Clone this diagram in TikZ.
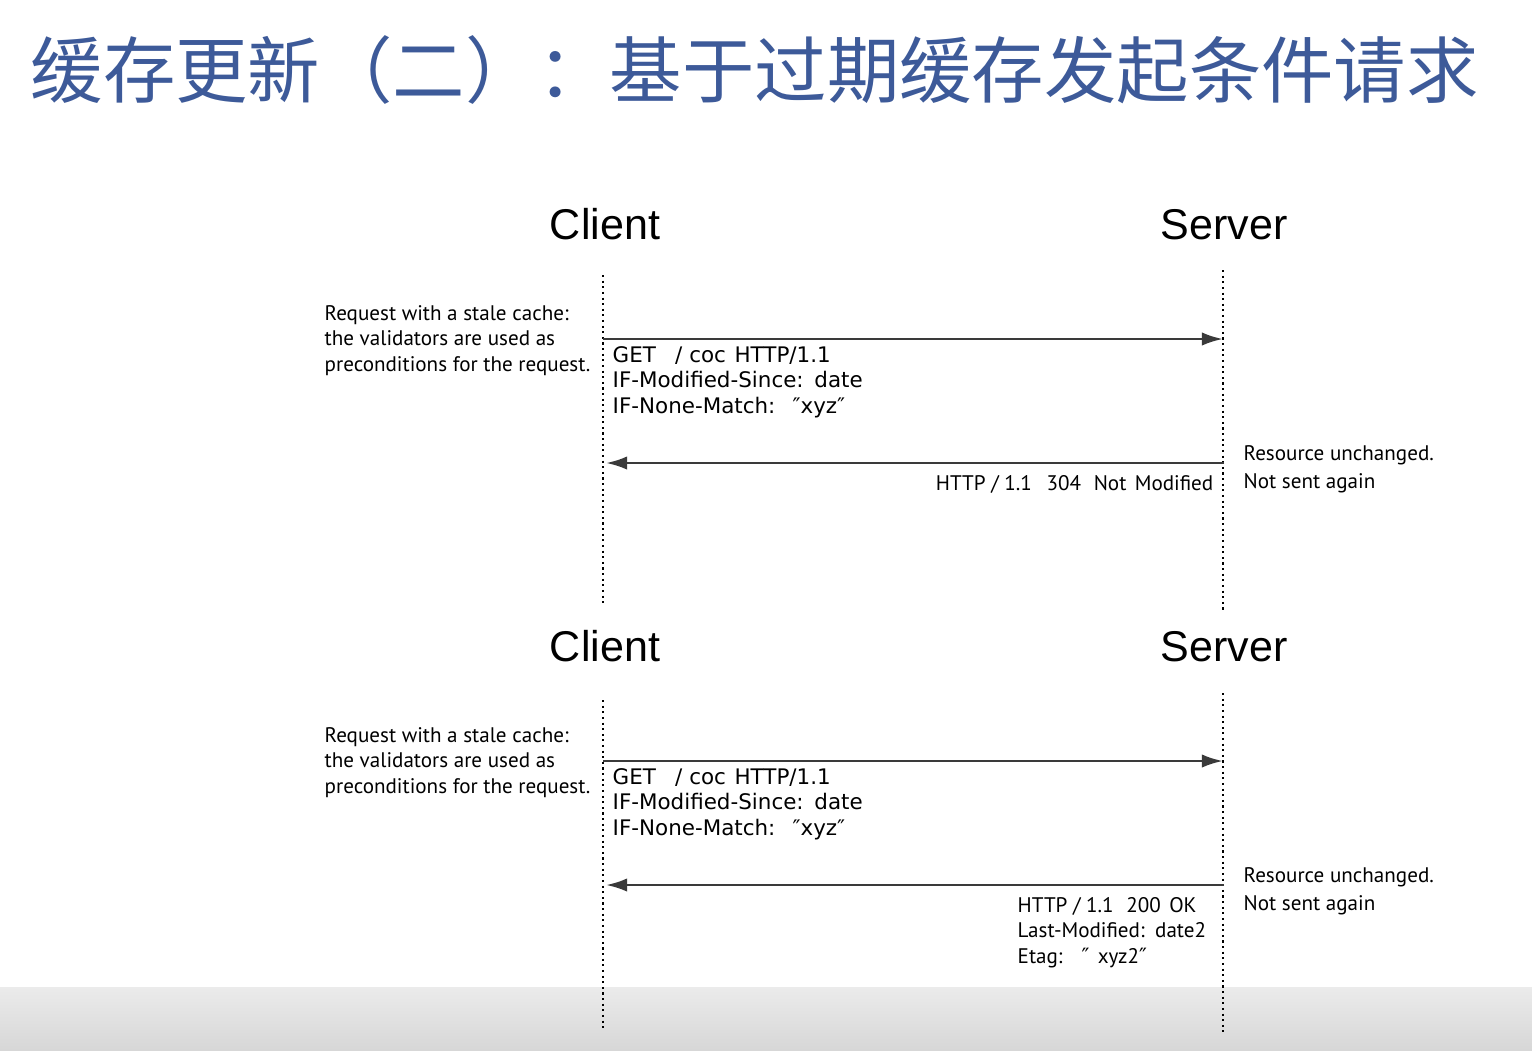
\documentclass[tikz,border=0pt]{standalone}
\usepackage{fontspec}
\setmainfont{PT Sans}
\newfontfamily\cjkfont{Noto Sans CJK SC}
\newfontfamily\headfont{Liberation Sans}
\newfontfamily\reqfont{DejaVu Sans}
\usetikzlibrary{arrows.meta,positioning}
\definecolor{titleblue}{HTML}{3D5A99}
\definecolor{msggray}{HTML}{3A3A3A}
\definecolor{bandtop}{HTML}{EBEBEB}
\definecolor{bandbot}{HTML}{D7D7D7}
\newcommand{\dq}{{\reqfont ″}}

\begin{document}
\begin{tikzpicture}[
        title/.style={anchor=base west, inner sep=0pt, text=titleblue, font=\cjkfont\fontsize{20.6}{24}\selectfont},
        actor/.style={anchor=base, inner sep=0pt, font=\headfont\fontsize{12.25}{14}\selectfont},
        note/.style={anchor=base west, inner sep=0pt, align=left, font=\fontsize{6.0}{7.15}\selectfont},
        reqtext/.style={anchor=base west, inner sep=0pt, align=left, font=\reqfont\fontsize{6.1}{7.25}\selectfont},
        resptext/.style={inner sep=0pt, align=left, font=\fontsize{6.0}{7.2}\selectfont},
        lifeline/.style={draw, densely dotted, line width=0.6pt},
        msg/.style={draw=msggray, line width=0.75pt, -{Latex[length=6pt,width=3.8pt]}},
    ]
    \useasboundingbox (0,0) rectangle (15.32,-10.5);
    \fill[top color=bandtop, bottom color=bandbot] (0,-9.87) rectangle (15.32,-10.5);

    \node[title](title) at (0.30,-0.97){缓存更新（二）：基于过期缓存发起条件请求};

    % first exchange
    \node[actor](client1) at (6.05,-2.39){Client};
    \node[actor](server1) at (12.24,-2.39){Server};
    \coordinate (c1top) at (6.03,-2.75);
    \coordinate (c1bot) at (6.03,-6.05);
    \coordinate (s1top) at (12.23,-2.70);
    \coordinate (s1bot) at (12.23,-6.10);
    \draw[lifeline] (c1top) -- (c1bot);
    \draw[lifeline] (s1top) -- (s1bot);
    \coordinate (c1req) at (6.03,-3.39);
    \coordinate (s1req) at (12.23,-3.39);
    \coordinate (s1resp) at (12.24,-4.63);
    \coordinate (c1resp) at (6.06,-4.63);
    \draw[msg] (c1req) -- (s1req);
    \draw[msg] (s1resp) -- (c1resp);
    \node[note](stale1) at (3.24,-3.71){Request with a stale cache:\\the validators are used as\\preconditions for the request.};
    \node[reqtext](get1) at (6.12,-4.13){GET\hspace{0.9em}/ coc\hspace{0.4em}HTTP/1.1\\IF-Modified-Since:\hspace{0.5em}date\\IF-None-Match:\hspace{0.8em}\dq xyz\dq};
    \node[resptext, anchor=base east](resp1) at (12.14,-4.90){HTTP / 1.1\hspace{0.7em}304\hspace{0.6em}Not\hspace{0.4em}Modified};
    \node[note](unch1) at (12.43,-4.88){Resource unchanged.\\[0.6pt]Not sent again};

    % second exchange
    \node[actor](client2) at (6.05,-6.61){Client};
    \node[actor](server2) at (12.24,-6.61){Server};
    \coordinate (c2top) at (6.03,-7.00);
    \coordinate (c2bot) at (6.03,-10.28);
    \coordinate (s2top) at (12.23,-6.93);
    \coordinate (s2bot) at (12.23,-10.32);
    \draw[lifeline] (c2top) -- (c2bot);
    \draw[lifeline] (s2top) -- (s2bot);
    \coordinate (c2req) at (6.03,-7.61);
    \coordinate (s2req) at (12.23,-7.61);
    \coordinate (s2resp) at (12.24,-8.85);
    \coordinate (c2resp) at (6.06,-8.85);
    \draw[msg] (c2req) -- (s2req);
    \draw[msg] (s2resp) -- (c2resp);
    \node[note](stale2) at (3.24,-7.93){Request with a stale cache:\\the validators are used as\\preconditions for the request.};
    \node[reqtext](get2) at (6.12,-8.35){GET\hspace{0.9em}/ coc\hspace{0.4em}HTTP/1.1\\IF-Modified-Since:\hspace{0.5em}date\\IF-None-Match:\hspace{0.8em}\dq xyz\dq};
    \node[resptext, anchor=base west](resp2) at (10.17,-9.63){HTTP / 1.1\hspace{0.6em}200\hspace{0.4em}OK\\Last-Modified:\hspace{0.5em}date2\\Etag:\hspace{0.9em}\dq\hspace{0.4em}xyz2\dq};
    \node[note](unch2) at (12.43,-9.10){Resource unchanged.\\[0.6pt]Not sent again};
\end{tikzpicture}
\end{document}
